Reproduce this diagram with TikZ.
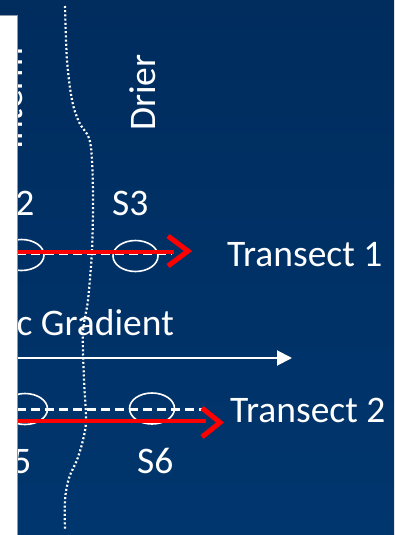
\documentclass[tikz,border=0pt]{standalone}
\usepackage{fontspec}
\setmainfont{Carlito}
\usetikzlibrary{arrows.meta,shapes.geometric}
\definecolor{bgtop}{RGB}{0,44,94}
\definecolor{bgbot}{RGB}{0,54,110}
\definecolor{redline}{RGB}{255,0,0}
\definecolor{stripedge}{RGB}{140,152,172}
\begin{document}
\begin{tikzpicture}[x=1pt,y=-1pt,
  lbl/.style={text=white,font=\fontsize{37.5}{42}\selectfont,inner sep=0pt},
  zoneline/.style={white,line width=2.2pt,dash pattern=on 2pt off 2.2pt},
  transline/.style={white,line width=3pt,dash pattern=on 9pt off 5pt},
  site/.style={draw=white,line width=1.6pt,ellipse,minimum width=45pt,minimum height=31pt,inner sep=0pt},
  redpath/.style={redline,line width=4pt},
  chevron/.style={redline,line width=5pt,line join=miter},
  gradarrow/.style={white,line width=2pt,-{Triangle[length=15pt,width=15pt]}}]
\useasboundingbox (0,0) rectangle (394,535);
\shade[top color=bgtop,bottom color=bgbot] (0,0) rectangle (394,535);
% zone boundary (dotted)
\draw[zoneline] plot[smooth,tension=0.55] coordinates {(65,6) (67,60) (72,100) (79,122) (89,138) (92,160) (93,200) (92,250) (88,300) (83,332) (84,380) (86,420) (83,440) (77,460) (69,478) (65,500) (65,530)};
% sites
\node[site] (s2e) at (21.5,255) {};
\node[site] (s3e) at (135.5,256) {};
\node[site] (s5e) at (25,409) {};
\node[site] (s6e) at (152,408.5) {};
% transect lines
\coordinate (t1start) at (17,253);
\coordinate (t1end) at (172,253);
\coordinate (t2start) at (17,409.5);
\coordinate (t2end) at (202,409.5);
\draw[transline] (t1start) -- (t1end);
\draw[transline] (t2start) -- (t2end);
% red arrows
\coordinate (r1start) at (14,251.5);
\coordinate (r1end) at (174,251.5);
\coordinate (r1a) at (168,236);
\coordinate (r1tip) at (188,251);
\coordinate (r1b) at (168,266);
\draw[redpath] (r1start) -- (r1end);
\draw[chevron] (r1a) -- (r1tip) -- (r1b);
\coordinate (r2start) at (14,421);
\coordinate (r2end) at (206,421);
\coordinate (r2a) at (202,408);
\coordinate (r2tip) at (220,422.5);
\coordinate (r2b) at (202,437);
\draw[redpath] (r2start) -- (r2end);
\draw[chevron] (r2a) -- (r2tip) -- (r2b);
% gradient arrow
\coordinate (gstart) at (14,358);
\coordinate (gend) at (292,358);
\draw[gradarrow] (gstart) -- (gend);
% labels
\node[lbl,anchor=base west] (t1) at (227,266) {Transect 1};
\node[lbl,anchor=base west] (t2) at (230,422) {Transect 2};
\node[lbl,anchor=base west] (s2) at (-2,215) {S2};
\node[lbl,anchor=base west] (s3) at (112,215) {S3};
\node[lbl,anchor=base west] (s5) at (-5,473) {S5};
\node[lbl,anchor=base west] (s6) at (137,473) {S6};
\node[lbl,anchor=base east] (grad) at (174,335) {c Gradient};
\node[lbl,anchor=base west,rotate=90] (drier) at (155,131) {Drier};
\node[lbl,anchor=base west,rotate=90] (interm) at (22,150) {Interm};
% white strip on the left
\draw[fill=white,draw=stripedge,line width=0.9pt] (-2,15) rectangle (17.2,537);
\end{tikzpicture}
\end{document}
